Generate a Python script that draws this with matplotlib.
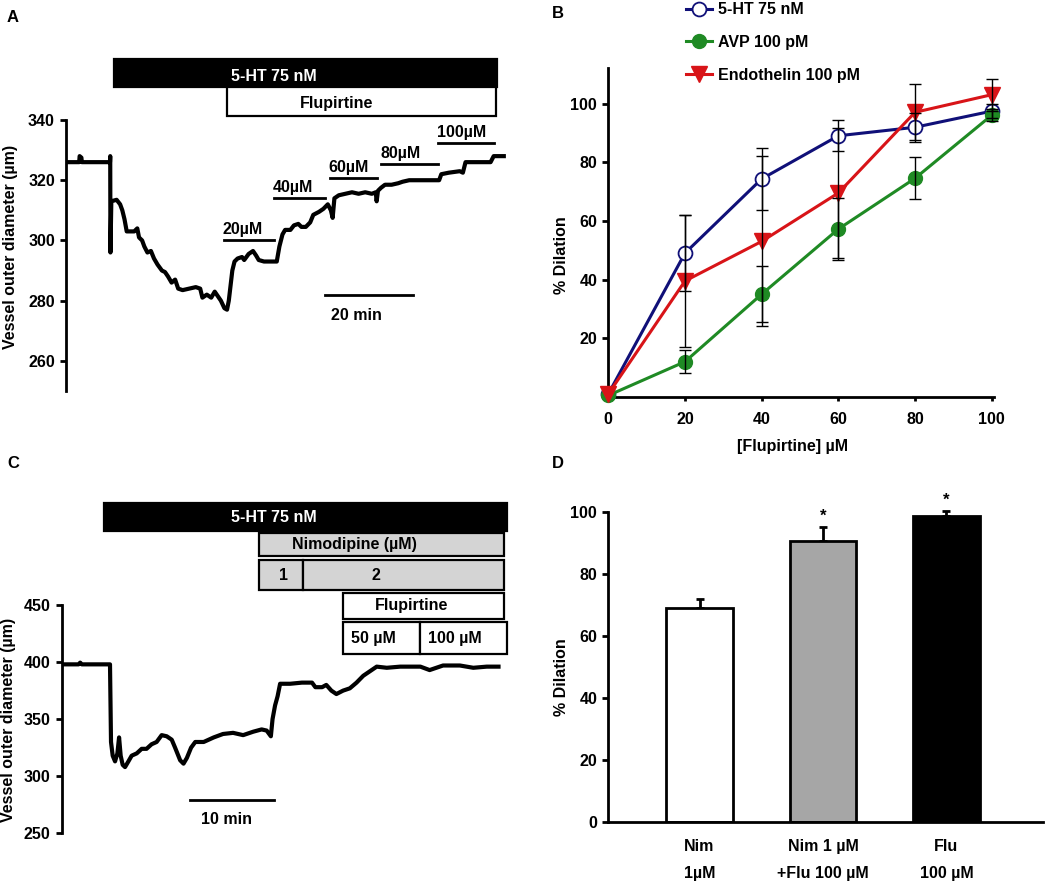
import numpy as np
import matplotlib.pyplot as plt
from matplotlib.patches import Rectangle

plt.rcParams['font.family'] = ['Liberation Sans', 'DejaVu Sans']
plt.rcParams['font.weight'] = 'bold'
plt.rcParams['font.size'] = 11.5
plt.rcParams['axes.labelweight'] = 'bold'

# A: diameter trace (min, um)
a_time = [0, 3.0, 3.1, 3.5, 3.6, 10.0, 10.05, 10.1, 10.3, 11.5, 12.3, 12.8, 13.3, 13.8,
          15.5, 16.2, 16.6, 17.3, 17.8, 18.5, 19.3, 20.0, 20.8, 21.8, 22.5, 23.2, 24.0,
          24.8, 25.5, 26.5, 28.0, 29.5, 30.5, 31.0, 32.0, 33.0, 33.8, 34.5, 35.2, 36.0,
          36.6, 37.0, 37.4, 37.8, 38.3, 39.0, 40.0, 40.5, 41.5, 42.5, 43.2, 43.8, 45.0,
          47.9, 48.5, 49.2, 49.8, 51.0, 51.8, 52.8, 53.5, 54.5, 55.5, 56.2, 57.5, 58.5,
          59.5, 60.2, 60.6, 61.0, 62.0, 63.5, 65.0, 66.5, 68.0, 69.5, 70.4, 70.6, 70.9,
          71.6, 72.5, 74.0, 75.5, 76.5, 78.0, 82.0, 84.8, 85.3, 87.0, 89.5, 90.2, 90.8,
          93.0, 96.5, 97.2, 99.5]
a_diam = [326, 326, 328, 327.5, 326, 326, 328, 296, 313, 313.5, 312, 310, 307, 303,
          303, 304, 301, 300, 298, 296, 296.5, 294, 292, 290, 289.5, 288, 286,
          287, 284, 283.5, 284, 284.5, 284, 281, 282, 281, 283, 281.5, 280, 277.5,
          277, 280, 285, 290, 293, 294, 294.5, 293.5, 295.5, 296.5, 295, 293.5, 293,
          293, 298, 302, 303.5, 303.5, 305, 305.5, 304.5, 304.5, 306, 308.5, 309.5, 310.5,
          312, 310, 307.5, 314, 315, 315.5, 316, 315.5, 316, 315.5, 316, 313, 316.5,
          317.5, 318.5, 318.5, 319, 319.5, 320, 320, 320, 322, 322.5, 323, 322.5, 326,
          326, 326, 328, 328]
a_conc_labels = ['20µM', '40µM', '60µM', '80µM', '100µM']
a_conc_start = [35.8, 47.3, 60.0, 71.7, 84.6]
a_conc_end = [47.3, 58.9, 70.6, 84.6, 97.3]
a_conc_level = [300.1, 314.0, 320.8, 325.3, 332.3]

# B: concentration-response
conc = [0, 20, 40, 60, 80, 100]
ht_mean = [1, 49, 74.3, 89, 91.9, 97.4]
ht_err = [0, 13, 10.5, 5.3, 5, 2.5]
avp_mean = [0.5, 12, 35, 57.2, 74.5, 96]
avp_err = [0, 4, 9.5, 10.5, 7.2, 2]
et_mean = [1, 39.5, 53, 69.5, 97, 103]
et_err = [0, 22.5, 29, 22, 9.5, 5.5]

# C: diameter trace with nimodipine (min, um)
c_time = [0, 2.0, 2.2, 2.4, 5.75, 5.87, 6.07, 6.35, 6.63, 6.83, 7.02, 7.26, 7.54, 7.94,
          8.33, 8.93, 9.52, 10.1, 10.7, 11.3, 11.9, 12.5, 13.1, 13.5, 14.1, 14.5, 14.9,
          15.4, 15.9, 16.9, 18.1, 19.2, 20.4, 21.6, 22.8, 23.8, 24.4, 24.9, 25.1, 25.4,
          25.7, 26.0, 27.2, 28.6, 29.8, 30.2, 31.0, 31.5, 32.1, 32.7, 33.5, 34.3, 35.1,
          35.9, 36.7, 37.5, 38.7, 40.3, 42.7, 43.8, 44.6, 45.4, 47.4, 49.0, 50.6, 52.0]
c_diam = [398, 398, 399.5, 398, 398, 330, 318, 313, 320, 334, 318, 310, 308, 313,
          318, 320, 324, 324, 328, 330, 336, 335, 332, 325, 314, 311, 316,
          325, 330, 330, 334, 337, 338, 336, 339, 341, 340, 335, 350, 362,
          370, 381, 381, 382, 382, 378, 378, 380, 375, 372, 375, 377, 382,
          388, 392, 396, 395, 396, 396, 393, 395, 397, 397, 395, 396, 396]

# D: bar chart
d_labels = ['Nim\n1µM', 'Nim 1 µM\n+Flu 100 µM', 'Flu\n100 µM']
d_mean = [69, 90.5, 98.5]
d_err = [3, 4.5, 1.8]
d_colors = ['white', '#a6a6a6', 'black']
d_sig = ['', '*', '*']

W, H = 1063, 884
fig = plt.figure(figsize=(W / 100, H / 100), dpi=100)


def px_axes(left, top, right, bottom):
    return fig.add_axes([left / W, 1 - bottom / H, (right - left) / W, (bottom - top) / H])


def box(ax, x0, x1, y0, y1, face, text, tx, ty, color='black'):
    ax.add_patch(Rectangle((x0, y0), x1 - x0, y1 - y0, facecolor=face,
                           edgecolor='black', lw=1.6, clip_on=False))
    ax.text(tx, ty, text, ha='center', va='center', color=color, fontweight='bold',
            clip_on=False)


def style(ax):
    for s in ['top', 'right']:
        ax.spines[s].set_visible(False)
    for s in ['left', 'bottom']:
        ax.spines[s].set_linewidth(2)
    ax.tick_params(width=2, length=4, pad=4, labelsize=11.5)
    for lab in ax.get_xticklabels() + ax.get_yticklabels():
        lab.set_fontweight('bold')


# ---------- A ----------
axA = px_axes(66, 120, 506, 391)
axA.plot(a_time, a_diam, color='black', lw=3)
axA.set_xlim(0, 100)
axA.set_ylim(250, 340)
axA.set_yticks([260, 280, 300, 320, 340])
axA.set_xticks([])
style(axA)
axA.spines['bottom'].set_visible(False)
axA.text(-0.127, 0.532, 'Vessel outer diameter (µm)', transform=axA.transAxes,
         rotation=90, ha='center', va='center')
box(axA, 10.9, 98, 350.9, 360.2, 'black', '5-HT 75 nM', 47.2, 354.6, color='white')
box(axA, 36.5, 97.7, 341.3, 350.9, 'white', 'Flupirtine', 61.5, 345.6)
for lab, x0, x1, lvl in zip(a_conc_labels, a_conc_start, a_conc_end, a_conc_level):
    axA.plot([x0, x1], [lvl, lvl], color='black', lw=2, clip_on=False)
    axA.text(x0 - 0.3, lvl + 1.0, lab, ha='left', va='bottom')
axA.plot([58.9, 78.9], [281.9, 281.9], color='black', lw=2)
axA.text(66, 275, '20 min', ha='center', va='center')

# ---------- B ----------
axB = px_axes(608.3, 68.3, 993.6, 396.9)
axB.plot(conc, ht_mean, color='#101078', lw=2.2, marker='o', ms=10, mfc='white',
         mec='#101078', mew=1.3, label='5-HT 75 nM', clip_on=False, zorder=3)
axB.plot(conc, avp_mean, color='#1f8a24', lw=2.2, marker='o', ms=10, mfc='#1f8a24',
         mec='#1f8a24', label='AVP 100 pM', clip_on=False, zorder=3)
axB.plot(conc, et_mean, color='#d81418', lw=2.2, marker='v', ms=11, mfc='#d81418',
         mec='#d81418', label='Endothelin 100 pM', clip_on=False, zorder=4)
for m, e in [(ht_mean, ht_err), (avp_mean, avp_err), (et_mean, et_err)]:
    axB.errorbar(conc[1:], m[1:], yerr=e[1:], fmt='none', ecolor='black', elinewidth=1,
                 capsize=4, capthick=1, zorder=5, clip_on=False)
axB.set_xlim(0, 100.5)
axB.set_ylim(0, 112)
axB.set_xticks([0, 20, 40, 60, 80, 100])
axB.set_yticks([20, 40, 60, 80, 100])
style(axB)
axB.tick_params(axis='x', length=3, pad=8)
axB.text(0.479, -0.152, '[Flupirtine] µM', transform=axB.transAxes, ha='center', va='center')
axB.text(-0.121, 0.432, '% Dilation', transform=axB.transAxes, rotation=90,
         ha='center', va='center')
axB.legend(loc='upper left', bbox_to_anchor=(680 / W, 1 - (-4) / H), bbox_transform=fig.transFigure,
           frameon=False, handlelength=1.6, handletextpad=0.4, labelspacing=1.1,
           borderaxespad=0, prop={'weight': 'bold', 'size': 11.5})

# ---------- C ----------
axC = px_axes(61.7, 605, 515.3, 833.3)
axC.plot(c_time, c_diam, color='black', lw=3)
axC.set_xlim(0, 54)
axC.set_ylim(250, 450)
axC.set_yticks([250, 300, 350, 400, 450])
axC.set_xticks([])
style(axC)
axC.spines['bottom'].set_visible(False)
axC.text(-0.118, 0.496, 'Vessel outer diameter (µm)', transform=axC.transAxes,
         rotation=90, ha='center', va='center')
box(axC, 5.04, 53, 515.2, 539.2, 'black', '5-HT 75 nM', 25.2, 526.5, color='white')
box(axC, 23.5, 52.7, 493.2, 512.9, '#d4d4d4', 'Nimodipine (µM)', 34.8, 503)
box(axC, 23.5, 28.7, 463.2, 489.5, '#d4d4d4', '1', 26.4, 476)
box(axC, 28.7, 52.7, 463.2, 489.5, '#d4d4d4', '2', 37.4, 476)
box(axC, 33.5, 52.7, 437.5, 460.8, 'white', 'Flupirtine', 41.7, 449.5)
box(axC, 33.5, 42.7, 407, 434.8, 'white', '50 µM', 37.1, 421)
box(axC, 42.7, 53, 407, 434.8, 'white', '100 µM', 46.8, 421)
axC.plot([15.3, 25.3], [278.9, 278.9], color='black', lw=2)
axC.text(19.6, 262, '10 min', ha='center', va='center')

# ---------- D ----------
axD = px_axes(608.3, 511.7, 1042.7, 822.3)
xpos = [1, 2, 3]
axD.bar(xpos, d_mean, width=0.54, color=d_colors, edgecolor='black', lw=2, zorder=2)
axD.errorbar(xpos, d_mean, yerr=[[0, 0, 0], d_err], fmt='none', ecolor='black',
             elinewidth=2, capsize=3, capthick=2, zorder=1, clip_on=False)
for x, m, e, s in zip(xpos, d_mean, d_err, d_sig):
    if s:
        axD.text(x, m + e + 3.5, s, ha='center', va='center', fontsize=12)
axD.set_xlim(0.261, 3.78)
axD.set_ylim(0, 100)
axD.set_yticks([0, 20, 40, 60, 80, 100])
axD.set_xticks(xpos)
axD.set_xticklabels(d_labels, linespacing=2.0)
style(axD)
axD.tick_params(axis='x', length=0, pad=12)
axD.text(-0.107, 0.469, '% Dilation', transform=axD.transAxes, rotation=90,
         ha='center', va='center')

for lab, x, y in [('A', 13, 18), ('B', 558, 14), ('C', 13, 463), ('D', 558, 463)]:
    fig.text(x / W, 1 - y / H, lab, ha='center', va='center', fontsize=12, fontweight='bold')

fig.savefig('out.png', dpi=100)
